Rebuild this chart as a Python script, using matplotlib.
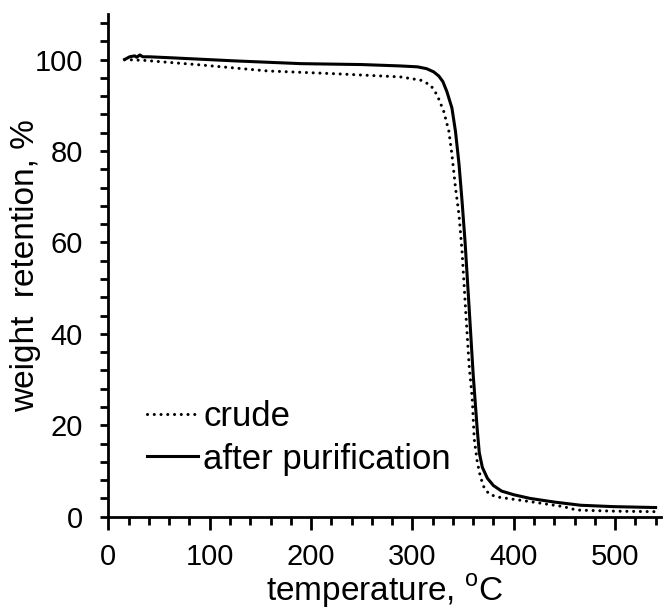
import matplotlib
matplotlib.use("Agg")
import matplotlib.pyplot as plt
from matplotlib.ticker import MultipleLocator

plt.rcParams['font.family'] = ['Liberation Sans', 'DejaVu Sans']
plt.rcParams['mathtext.fontset'] = 'custom'
plt.rcParams['mathtext.rm'] = 'Liberation Sans'

# crude sample (dotted)
crude_t = [16, 36, 92, 157, 223, 288, 308, 318, 324.5, 331, 336, 339, 342.5,
           346, 349, 352.4, 356, 359, 361, 364, 367, 371, 376, 384, 400, 416,
           449, 462, 500, 540]
crude_w = [100, 99.8, 98.8, 97.5, 96.9, 96.2, 95.5, 94.4, 92.2, 88.6, 84.3,
           79.2, 72, 66, 58, 45.6, 33, 26, 17, 12, 8.8, 6.2, 4.9, 4.3, 3.8,
           3.3, 2.2, 1.45, 1.2, 1.1]

# after purification (solid)
pure_t = [16, 21, 26, 28, 31, 34, 40, 60, 125, 190, 250, 288, 305, 314, 321,
          326, 330, 334, 339, 342.5, 346, 349, 352, 356, 360, 362, 364, 366,
          369, 374, 380, 388, 400, 416, 440, 466, 498, 540]
pure_w = [100.0, 100.6, 100.8, 100.5, 101.0, 100.6, 100.6, 100.4, 99.7, 99.1,
          98.9, 98.6, 98.4, 98.0, 97.3, 96.4, 95.2, 93.0, 89.4, 84.3, 77.1,
          69, 60, 45.6, 31, 25, 19, 14, 10.8, 8.4, 6.8, 5.6, 4.8, 4.0, 3.2,
          2.5, 2.2, 2.0]

fig = plt.figure(figsize=(6.65, 6.14), dpi=100)
ax = fig.add_axes([0.163, 0.1585, 0.8305, 0.819])

ax.plot(crude_t, crude_w, color='black', lw=2.2, linestyle=(0, (0.01, 2.2)),
        dash_capstyle='round', label='crude')
ax.plot(pure_t, pure_w, color='black', lw=2.2, label='after purification')

ax.set_xlim(0, 545)
ax.set_ylim(0, 110)
ax.xaxis.set_major_locator(MultipleLocator(100))
ax.xaxis.set_minor_locator(MultipleLocator(20))
ax.yaxis.set_minor_locator(MultipleLocator(4))
ax.set_yticks([0, 20, 40, 60, 80, 100])

for s in ['top', 'right']:
    ax.spines[s].set_visible(False)
for s in ['left', 'bottom']:
    ax.spines[s].set_linewidth(2.0)

ax.tick_params(axis='x', which='major', length=9, width=2.0, labelsize=21, pad=10)
ax.tick_params(axis='x', which='minor', length=6, width=2.0)
ax.tick_params(axis='y', which='both', length=5.5, width=2.0, labelsize=21, pad=13)

ax.set_xlabel('temperature, $^{\\mathrm{o}}$C', fontsize=24, labelpad=1)
ax.set_ylabel('weight  retention, %', fontsize=24, labelpad=-5)

ax.legend(loc='lower left', bbox_to_anchor=(38, 9.0),
          bbox_transform=ax.transData, borderaxespad=0, borderpad=0,
          frameon=False, fontsize=25, handlelength=1.47, handletextpad=0.15,
          labelspacing=0.28)

fig.savefig('out.png', dpi=100)
